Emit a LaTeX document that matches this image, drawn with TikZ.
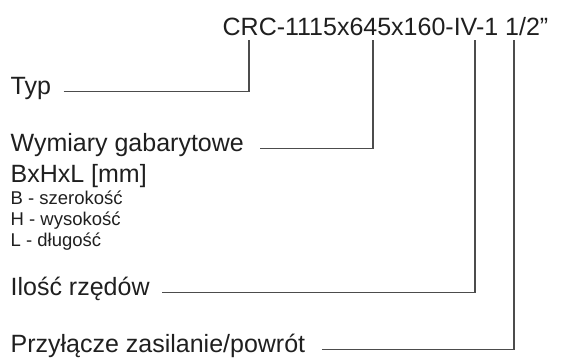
\documentclass[tikz,border=0pt]{standalone}
\usepackage{fontspec}
\setmainfont{Liberation Sans}

\begin{document}
\begin{tikzpicture}[x=1pt,y=-1pt,line width=1.3pt,
  lbl/.style={anchor=base west,inner sep=0pt,text=black!88},
  big/.style={lbl,font=\fontsize{25}{29}\selectfont},
  small/.style={lbl,font=\fontsize{18.5}{22}\selectfont},
  lead/.style={draw=black!70}]
\useasboundingbox (0,0) rectangle (564,360);
\def\Ytop{40}     % upper end of the leaders, just under the code
\def\Gap{12}      % space between a label and its leader
% ---------- type code ----------
\node[lbl,font=\fontsize{25}{30}\selectfont] (code) at (222,35) {CRC-1115x645x160-IV-1 1/2”};
\coordinate (cTyp) at (249,\Ytop);
\coordinate (cDim) at (373,\Ytop);
\coordinate (cRow) at (475,\Ytop);
\coordinate (cCon) at (514,\Ytop);
% ---------- labels ----------
\node[big] (typ) at (10,94) {Typ};
\node[big] (dim) at (10,151) {Wymiary gabarytowe};
\node[big] (bhl) at (10,182) {BxHxL [mm]};
\foreach \y/\t/\n in {204/{B - szerokość}/b,225/{H - wysokość}/h,246/{L - długość}/l}{
  \node[small] (\n) at (10,\y) {\t};
}
\node[big] (row) at (10,295) {Ilość rzędów};
\node[big] (con) at (10,352) {Przyłącze zasilanie/powrót};
% ---------- leaders ----------
\draw[lead] ([xshift=\Gap]typ.mid east) -| (cTyp);
\draw[lead] ([xshift=\Gap+4]dim.mid east) -| (cDim);
\draw[lead] ([xshift=\Gap]row.mid east) -| (cRow);
\draw[lead] ([xshift=\Gap+4]con.mid east) -| (cCon);
\end{tikzpicture}
\end{document}
